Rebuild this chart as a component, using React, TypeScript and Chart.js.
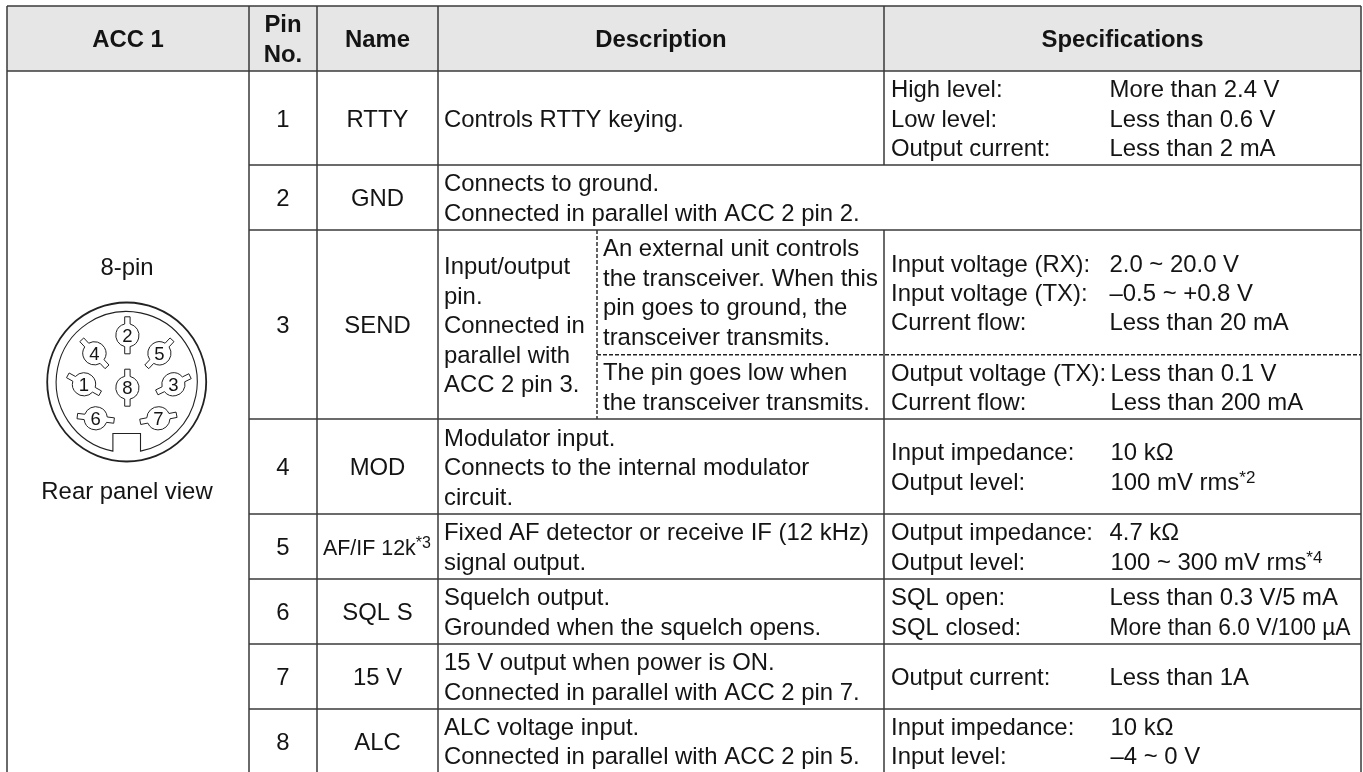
import React, { useEffect, useRef } from "react";
import { Chart, registerables } from "chart.js";

Chart.register(...registerables);

// ---------- table text ----------
const headerCells = ["ACC 1", "Pin\nNo.", "Name", "Description", "Specifications"];
const connectorTitle = "8-pin";
const connectorCaption = "Rear panel view";
const pinNumbers = ["1", "2", "3", "4", "5", "6", "7", "8"];
const pinNames = ["RTTY", "GND", "SEND", "MOD", "AF/IF 12k", "SQL S", "15 V", "ALC"];
const pinNameNotes = ["", "", "", "", "*3", "", "", ""];
const descriptions = [
  ["Controls RTTY keying."],
  ["Connects to ground.", "Connected in parallel with ACC 2 pin 2."],
  ["Input/output", "pin.", "Connected in", "parallel with", "ACC 2 pin 3."],
  ["Modulator input.", "Connects to the internal modulator", "circuit."],
  ["Fixed AF detector or receive IF (12 kHz)", "signal output."],
  ["Squelch output.", "Grounded when the squelch opens."],
  ["15 V output when power is ON.", "Connected in parallel with ACC 2 pin 7."],
  ["ALC voltage input.", "Connected in parallel with ACC 2 pin 5."],
];
const sendDescriptionA = ["An external unit controls", "the transceiver. When this", "pin goes to ground, the", "transceiver transmits."];
const sendDescriptionB = ["The pin goes low when", "the transceiver transmits."];
const specLabels = [
  ["High level:", "Low level:", "Output current:"],
  [],
  ["Input voltage (RX):", "Input voltage (TX):", "Current flow:"],
  ["Input impedance:", "Output level:"],
  ["Output impedance:", "Output level:"],
  ["SQL open:", "SQL closed:"],
  ["Output current:"],
  ["Input impedance:", "Input level:"],
];
const specValues = [
  ["More than 2.4 V", "Less than 0.6 V", "Less than 2 mA"],
  [],
  ["2.0 ~ 20.0 V", "\u20130.5 ~ +0.8 V", "Less than 20 mA"],
  ["10 k\u03A9", "100 mV rms^*2"],
  ["4.7 k\u03A9", "100 ~ 300 mV rms^*4"],
  ["Less than 0.3 V/5 mA", "More than 6.0 V/100 \u00B5A"],
  ["Less than 1A"],
  ["10 k\u03A9", "\u20134 ~ 0 V"],
];
const sendSpecLabelsB = ["Output voltage (TX):", "Current flow:"];
const sendSpecValuesB = ["Less than 0.1 V", "Less than 200 mA"];

// ---------- table geometry, in scale units ----------
const WIDTH = 1363;
const HEIGHT = 772;
const colEdges = [7, 249, 317, 438, 884, 1361];
const rowEdges = [6, 71, 165, 230, 419, 514, 579, 644, 709, 773];
const sendSplitX = 597;
const sendSplitY = 354.7;

// ---------- connector drawing ----------
const connector = { x: 126.7, y: 382, outer: 79.5, inner: 70.5, notchHalf: 13.8, notchTop: 433.5 };
const pinLabels = ["1", "2", "3", "4", "5", "6", "7", "8"];
const pinX = [84, 127.4, 173.4, 94.4, 159.4, 95.7, 158.4, 127.4];
const pinY = [384.3, 335.3, 384.3, 353.3, 353.3, 418.3, 418.3, 387.7];
const pinTabAngle = [29, 90, 154, 47, 133, 7, 169, 90];

const INK = "#141414";
const RULE = "#3a3a3a";
const FONT = "'Liberation Sans', Arial, sans-serif";
const TEXT_SIZE = 23.9;
const LINE_H = 29.4;
const BASE_OFFSET = 8.6;

type Seg = { x1: number; y1: number; x2: number; y2: number; dash?: boolean };

function ruleSegments(): Seg[] {
  const out: Seg[] = [];
  const [x0, x1, x2, x3, x4, x5] = colEdges;
  // horizontals
  rowEdges.slice(0, -1).forEach((y, i) => {
    out.push({ x1: i < 2 ? x0 : x1, y1: y, x2: x5, y2: y });
  });
  // verticals
  const bottom = HEIGHT;
  out.push({ x1: x0, y1: rowEdges[0], x2: x0, y2: bottom });
  out.push({ x1: x1, y1: rowEdges[0], x2: x1, y2: bottom });
  out.push({ x1: x2, y1: rowEdges[0], x2: x2, y2: bottom });
  out.push({ x1: x3, y1: rowEdges[0], x2: x3, y2: bottom });
  out.push({ x1: x5, y1: rowEdges[0], x2: x5, y2: bottom });
  out.push({ x1: x4, y1: rowEdges[0], x2: x4, y2: rowEdges[2] });
  out.push({ x1: x4, y1: rowEdges[3], x2: x4, y2: bottom });
  // dashed split in the SEND row
  out.push({ x1: sendSplitX, y1: rowEdges[3], x2: sendSplitX, y2: rowEdges[4], dash: true });
  out.push({ x1: sendSplitX, y1: sendSplitY, x2: x5, y2: sendSplitY, dash: true });
  return out;
}

function App() {
  const ref = useRef<HTMLCanvasElement>(null);

  useEffect(() => {
    document.body.style.margin = "0";
    document.body.style.overflow = "hidden";
    const canvas = ref.current!;

    const tablePlugin = {
      id: "tableText",
      afterDatasetsDraw(chart: any) {
        const ctx: CanvasRenderingContext2D = chart.ctx;
        const X = (v: number) => chart.scales.x.getPixelForValue(v);
        const Y = (v: number) => chart.scales.y.getPixelForValue(v);

        const drawLine = (text: string, x: number, y: number, align: CanvasTextAlign, font: string, supSize = 17, maxW?: number) => {
          ctx.font = font;
          ctx.fillStyle = INK;
          ctx.textAlign = align;
          ctx.textBaseline = "alphabetic";
          const [main, sup] = text.split("^");
          if (maxW) ctx.fillText(main, X(x), Y(y), maxW);
          else ctx.fillText(main, X(x), Y(y));
          if (sup) {
            const w = ctx.measureText(main).width;
            ctx.font = `${supSize}px ${FONT}`;
            ctx.textAlign = "left";
            ctx.fillText(sup, X(x) + w, Y(y) - 6.7);
          }
        };
        const block = (lines: string[], x: number, top: number, bot: number, align: CanvasTextAlign, font: string, dy = 0, maxW?: number) => {
          const c = (top + bot) / 2 + BASE_OFFSET + dy;
          lines.forEach((l, i) => drawLine(l, x, c + (i - (lines.length - 1) / 2) * LINE_H, align, font, 17, maxW));
        };
        const mid = (a: number, b: number) => (a + b) / 2;
        const regular = `${TEXT_SIZE}px ${FONT}`;
        const bold = `bold ${TEXT_SIZE}px ${FONT}`;

        // header
        headerCells.forEach((h, i) => {
          block(h.split("\n"), mid(colEdges[i], colEdges[i + 1]), rowEdges[0], rowEdges[1], "center", bold);
        });

        const descX = colEdges[3] + 6;
        const labelX = colEdges[4] + 7;
        const valueX = 1109.5;
        const valueMax = 241;

        pinNumbers.forEach((n, i) => {
          const top = rowEdges[i + 1];
          const bot = rowEdges[i + 2];
          block([n], mid(colEdges[1], colEdges[2]), top, bot, "center", regular);
          if (pinNameNotes[i]) {
            const c = mid(top, bot) + BASE_OFFSET;
            drawLine(pinNames[i] + "^" + pinNameNotes[i], colEdges[2] + 6, c, "left", `21.4px ${FONT}`, 16);
          } else {
            block([pinNames[i]], mid(colEdges[2], colEdges[3]), top, bot, "center", regular);
          }
          block(descriptions[i], descX, top, bot, "left", regular);
          if (i === 2) {
            block(sendDescriptionA, sendSplitX + 6, top, sendSplitY, "left", regular, -0.5);
            block(sendDescriptionB, sendSplitX + 6, sendSplitY, bot, "left", regular, -0.5);
            block(specLabels[i], labelX, top, sendSplitY, "left", regular);
            block(specValues[i], valueX, top, sendSplitY, "left", regular);
            block(sendSpecLabelsB, labelX, sendSplitY, bot, "left", regular);
            block(sendSpecValuesB, valueX + 1, sendSplitY, bot, "left", regular);
          } else if (i === 4) {
            block(specLabels[i], labelX, top, bot, "left", regular);
            const c = mid(top, bot) + BASE_OFFSET;
            drawLine(specValues[i][0], valueX, c - LINE_H / 2, "left", regular);
            drawLine(specValues[i][1], valueX + 1, c + LINE_H / 2, "left", regular);
          } else {
            block(specLabels[i], labelX, top, bot, "left", regular);
            block(specValues[i], valueX + (i === 3 || i === 7 ? 1 : 0), top, bot, "left", regular, 0, valueMax);
          }
        });

        // connector captions
        drawLine(connectorTitle, mid(colEdges[0], colEdges[1]) - 1, 275, "center", regular);
        drawLine(connectorCaption, mid(colEdges[0], colEdges[1]) - 1, 498.5, "center", regular);

        // connector body
        ctx.save();
        ctx.strokeStyle = "#222222";
        const cx = X(connector.x);
        const cy = Y(connector.y);
        ctx.lineWidth = 1.8;
        ctx.beginPath();
        ctx.arc(cx, cy, connector.outer, 0, Math.PI * 2);
        ctx.stroke();
        ctx.lineWidth = 1.1;
        const g = Math.asin(connector.notchHalf / connector.inner);
        ctx.beginPath();
        ctx.arc(cx, cy, connector.inner, Math.PI / 2 + g, Math.PI / 2 - g + Math.PI * 2);
        ctx.lineTo(cx + connector.notchHalf, Y(connector.notchTop));
        ctx.lineTo(cx - connector.notchHalf, Y(connector.notchTop));
        ctx.closePath();
        ctx.stroke();

        // connector pins: a circle with two tabs on opposite sides
        const r = 11.6;
        const hw = 2.7;
        const reach = 18.5;
        const alpha = Math.asin(hw / r);
        pinLabels.forEach((label, i) => {
          const px = X(pinX[i]);
          const py = Y(pinY[i]);
          const a = (pinTabAngle[i] * Math.PI) / 180;
          const ux = Math.cos(a);
          const uy = Math.sin(a);
          const nx = -uy;
          const ny = ux;
          ctx.beginPath();
          ctx.arc(px, py, r, a + alpha, a + Math.PI - alpha);
          ctx.lineTo(px - ux * reach + nx * hw, py - uy * reach + ny * hw);
          ctx.lineTo(px - ux * reach - nx * hw, py - uy * reach - ny * hw);
          ctx.arc(px, py, r, a + Math.PI + alpha, a + Math.PI * 2 - alpha);
          ctx.lineTo(px + ux * reach - nx * hw, py + uy * reach - ny * hw);
          ctx.lineTo(px + ux * reach + nx * hw, py + uy * reach + ny * hw);
          ctx.closePath();
          ctx.lineWidth = 1;
          ctx.stroke();
          ctx.font = `18.5px ${FONT}`;
          ctx.fillStyle = INK;
          ctx.textAlign = "center";
          ctx.textBaseline = "alphabetic";
          ctx.fillText(label, px, py + 6.6);
        });
        ctx.restore();
      },
    };

    const segs = ruleSegments();
    const datasets: any[] = segs.map((s) => ({
      data: [
        { x: s.x1, y: s.y1 },
        { x: s.x2, y: s.y2 },
      ],
      borderColor: s.dash ? "#222222" : RULE,
      borderWidth: s.dash ? 1.4 : 1.5,
      borderDash: s.dash ? [4, 2] : [],
      pointRadius: 0,
      fill: false,
      order: 1,
    }));
    datasets.push({
      data: [
        { x: colEdges[0], y: rowEdges[0] },
        { x: colEdges[5], y: rowEdges[0] },
      ],
      borderColor: "transparent",
      borderWidth: 0,
      pointRadius: 0,
      backgroundColor: "#e6e6e6",
      fill: { target: { value: rowEdges[1] } },
      order: 10,
    });

    const chart = new Chart(canvas, {
      type: "line",
      data: { datasets },
      options: {
        animation: false,
        responsive: false,
        parsing: false,
        normalized: true,
        layout: { padding: 0 },
        events: [],
        plugins: { legend: { display: false }, title: { display: false }, tooltip: { enabled: false } },
        scales: {
          x: { type: "linear", min: 0, max: WIDTH, display: false },
          y: { type: "linear", min: 0, max: HEIGHT, reverse: true, display: false },
        },
      },
      plugins: [tablePlugin],
    } as any);
    return () => chart.destroy();
  }, []);

  return (
    <div style={{ position: "absolute", left: 0, top: 0, width: WIDTH, height: HEIGHT, background: "#ffffff" }}>
      <canvas ref={ref} width={WIDTH} height={HEIGHT} style={{ display: "block", width: WIDTH, height: HEIGHT }} />
    </div>
  );
}

export default App;
